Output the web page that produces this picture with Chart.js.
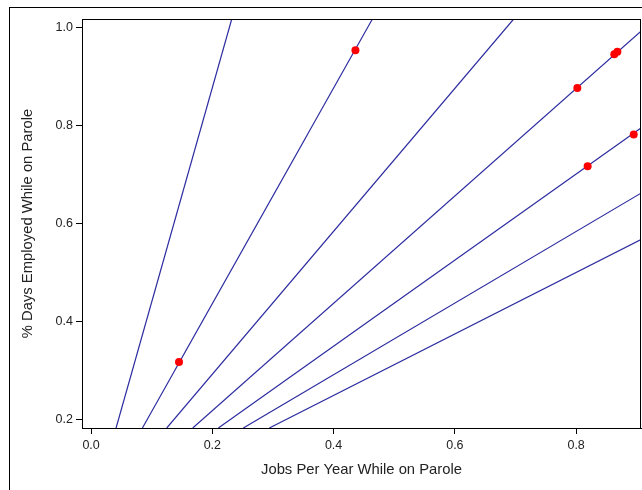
<!DOCTYPE html>
<html>
<head>
<meta charset="utf-8">
<script src="https://cdn.jsdelivr.net/npm/chart.js@4"></script>
<style>
  html, body { margin: 0; padding: 0; background: #fff; overflow: hidden; }
  #wrap { position: relative; width: 642px; height: 490px; }
  #frame { position: absolute; left: 9px; top: 7px; width: 700px; height: 560px; border: 1px solid #000; }
  #chart { position: absolute; left: 0; top: 0; }
</style>
</head>
<body>
<div id="wrap">
  <div id="frame"></div>
  <canvas id="chart" width="642" height="490"></canvas>
</div>
<script>
// reference lines: where each one enters at the bottom edge and leaves at the top/right edge
const lineStartX = [0.0412, 0.0846, 0.1248, 0.1677, 0.2099, 0.2511, 0.2940];
const lineStartY = [0.182, 0.182, 0.182, 0.182, 0.182, 0.182, 0.182];
const lineEndX = [0.232, 0.464, 0.697, 0.907, 0.907, 0.907, 0.907];
const lineEndY = [1.018, 1.018, 1.018, 0.993, 0.795, 0.662, 0.567];

// observed cases
const pointX = [0.145, 0.436, 0.802, 0.863, 0.868, 0.819, 0.895];
const pointY = [0.317, 0.954, 0.877, 0.946, 0.951, 0.717, 0.782];

const xTicks = [0.0, 0.2, 0.4, 0.6, 0.8];
const yTicks = [0.2, 0.4, 0.6, 0.8, 1.0];

const fontFamily = "'Liberation Sans', Arial, sans-serif";

const frameBox = {
    id: 'frameBox',
    afterDraw(chart) {
        const { ctx, chartArea: a } = chart;
        ctx.save();
        ctx.strokeStyle = '#000';
        ctx.lineWidth = 1;
        ctx.strokeRect(a.left + 0.5, a.top + 0.5, a.right - a.left - 1, a.bottom - a.top);
        ctx.restore();
    }
};

const datasets = lineStartX.map((x0, i) => ({
    label: `line ${i + 1}`,
    data: [{ x: x0, y: lineStartY[i] }, { x: lineEndX[i], y: lineEndY[i] }],
    showLine: true,
    borderColor: '#2c2ca0',
    borderWidth: 1.2,
    pointRadius: 0,
    order: 2
}));

datasets.push({
    label: 'cases',
    data: pointX.map((x, i) => ({ x, y: pointY[i] })),
    showLine: false,
    backgroundColor: '#ff0000',
    borderColor: '#ff0000',
    pointRadius: 4,
    pointBorderWidth: 0,
    order: 1
});

new Chart(document.getElementById('chart'), {
    type: 'scatter',
    data: { datasets },
    options: {
        responsive: false,
        animation: false,
        layout: { autoPadding: false, padding: { left: 0, top: 19, right: 1, bottom: 0 } },
        plugins: { legend: { display: false }, tooltip: { enabled: false } },
        scales: {
            x: {
                type: 'linear',
                min: -0.015,
                max: 0.907,
                afterBuildTicks: s => { s.ticks = xTicks.map(v => ({ value: v })); },
                afterFit: s => { s.height = 62; s.paddingLeft = 0; s.paddingRight = 0; },
                grid: { drawOnChartArea: false, tickLength: 6, color: '#000' },
                border: { color: '#000', width: 1 },
                ticks: {
                    padding: 4,
                    color: '#222',
                    font: { family: fontFamily, size: 12.5 },
                    callback: v => Number(v).toFixed(1)
                },
                title: {
                    display: true,
                    text: 'Jobs Per Year While on Parole',
                    color: '#222',
                    font: { family: fontFamily, size: 14.8 },
                    padding: { top: 4, bottom: 11 }
                }
            },
            y: {
                type: 'linear',
                min: 0.182,
                max: 1.018,
                afterBuildTicks: s => { s.ticks = yTicks.map(v => ({ value: v })); },
                afterFit: s => { s.width = 82; s.paddingTop = 0; s.paddingBottom = 0; },
                grid: { drawOnChartArea: false, tickLength: 6, color: '#000' },
                border: { color: '#000', width: 1 },
                ticks: {
                    padding: 3,
                    color: '#222',
                    font: { family: fontFamily, size: 12.5 },
                    callback: v => Number(v).toFixed(1)
                },
                title: {
                    display: true,
                    text: '% Days Employed While on Parole',
                    color: '#222',
                    font: { family: fontFamily, size: 14.8 },
                    padding: { top: 19, bottom: 4 }
                }
            }
        }
    },
    plugins: [frameBox]
});
</script>
</body>
</html>
